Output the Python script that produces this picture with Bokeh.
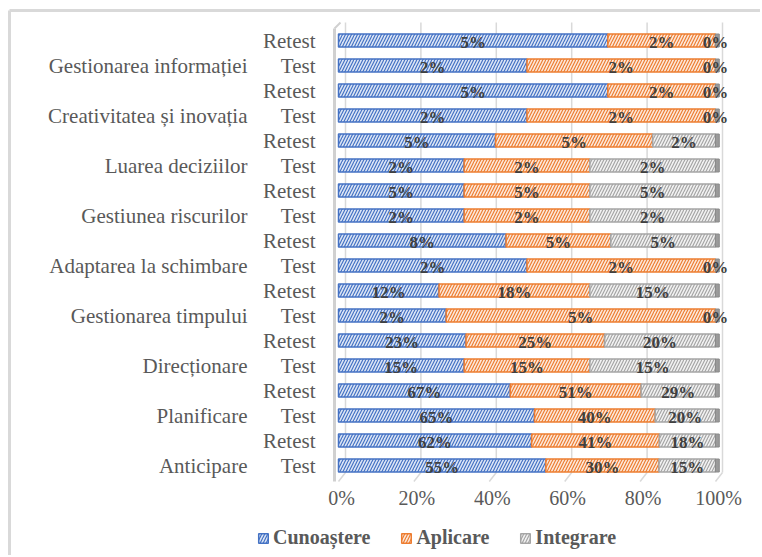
from bokeh.plotting import figure
from bokeh.models import ColumnDataSource, Range1d, Legend, LegendItem
from bokeh.core.properties import value
from bokeh.embed import file_html
from bokeh.resources import INLINE

# ---- data (rows from bottom to top) ----
skills = ["Anticipare", "Planificare", "Direcționare", "Gestionarea timpului",
          "Adaptarea la schimbare", "Gestiunea riscurilor", "Luarea deciziilor",
          "Creativitatea și inovația", "Gestionarea informației"]
phases = ["Test", "Retest"]
cunoastere = [55, 62, 65, 67, 15, 23, 2, 12, 2, 8, 2, 5, 2, 5, 2, 5, 2, 5]
aplicare = [30, 41, 40, 51, 15, 25, 5, 18, 2, 5, 2, 5, 2, 5, 2, 2, 2, 2]
integrare = [15, 18, 20, 29, 15, 20, 0, 15, 0, 5, 2, 5, 2, 2, 0, 0, 0, 0]
series_names = ["Cunoaștere", "Aplicare", "Integrare"]
x_ticks = [0, 0.2, 0.4, 0.6, 0.8, 1.0]
x_tick_labels = ["0%", "20%", "40%", "60%", "80%", "100%"]

SERIF = "Liberation Serif"
n = len(cunoastere)
rows = list(range(n))

# ---- canvas geometry (the frame covers the whole canvas) ----
W, H = 760, 555
XS = 377.0            # px per 100 %
YS = 25.0             # px per row
X0_PX, ROW0_PX = 338.0, 465.0
x_start = -X0_PX / XS
y_end = ROW0_PX / YS
def X(px):
    return x_start + px / XS
def Y(py):
    return y_end - py / YS

# normalise each row to 100 %
shares = []
for i in rows:
    tot = cunoastere[i] + aplicare[i] + integrare[i]
    shares.append((cunoastere[i] / tot, aplicare[i] / tot, integrare[i] / tot))

lefts, rights = [[], [], []], [[], [], []]
for i in rows:
    acc = 0.0
    for k in range(3):
        lefts[k].append(acc)
        acc += shares[i][k]
        rights[k].append(acc)

p = figure(output_backend="svg", toolbar_location=None, width=W, height=H,
           x_range=Range1d(x_start, x_start + W / XS), y_range=Range1d(y_end - H / YS, y_end),
           min_border_left=0, min_border_right=0, min_border_top=0, min_border_bottom=0)
p.outline_line_color = None
p.xaxis.visible = False
p.yaxis.visible = False
p.xgrid.visible = False
p.ygrid.visible = False

# chart-area border (left and top, as in the cropped original)
p.segment(x0=[X(9)], y0=[Y(10)], x1=[X(9)], y1=[Y(H)], line_color="#D9D9D9", line_width=3)
p.segment(x0=[X(9)], y0=[Y(10)], x1=[X(W)], y1=[Y(10)], line_color="#D9D9D9", line_width=3)

# 3D-ish wall / gridlines
dx = 7 / XS
p.segment(x0=[t + dx for t in x_ticks], y0=Y(472), x1=[t + dx for t in x_ticks], y1=Y(22),
          line_color="#D9D9D9", line_width=1.5)
p.segment(x0=x_ticks, y0=Y(481), x1=[t + dx for t in x_ticks], y1=Y(472),
          line_color="#D9D9D9", line_width=1.5)
p.segment(x0=[X(334)], y0=[Y(481)], x1=[X(334)], y1=[Y(28)], line_color="#D0D0D0", line_width=3)
p.segment(x0=[X(334)], y0=[Y(28)], x1=[X(340)], y1=[Y(22)], line_color="#D0D0D0", line_width=2)

styles = [
    dict(fill_color="#DCE5F5", hatch_color="#4472C4", line_color="#4472C4"),
    dict(fill_color="#FCE8DA", hatch_color="#ED7D31", line_color="#ED7D31"),
    dict(fill_color="#F2F2F2", hatch_color="#A5A5A5", line_color="#A5A5A5"),
]
renderers = []
for k in range(3):
    src = ColumnDataSource(dict(y=rows, left=lefts[k], right=rights[k]))
    r = p.hbar(y="y", left="left", right="right", height=0.52, source=src,
               fill_color=styles[k]["fill_color"], line_color=styles[k]["line_color"],
               line_width=1.5, hatch_pattern="right_diagonal_line",
               hatch_color=styles[k]["hatch_color"], hatch_scale=6, hatch_weight=1.2)
    renderers.append(r)

# end caps
p.hbar(y=rows, left=1.0, right=1.01, height=0.52, fill_color="#9A9A9A", line_color="#8A8A8A")

# data labels
vals = [cunoastere, aplicare, integrare]
lx, ly, lt = [], [], []
for k in range(3):
    for i in rows:
        lx.append((lefts[k][i] + rights[k][i]) / 2)
        ly.append(i)
        lt.append(f"{vals[k][i]}%")
p.text(x=lx, y=ly, text=lt, text_align="center", text_baseline="middle", y_offset=2,
       text_font=value(SERIF), text_font_style="bold", text_font_size="17px",
       text_color="#404040")

# category labels: Test / Retest
p.text(x=X(315), y=rows, text=[phases[i % 2] for i in rows], text_align="right",
       text_baseline="middle", text_font=value(SERIF), text_font_size="21px",
       text_color="#595959")
# skill labels aligned with the Test rows
p.text(x=X(247), y=[2 * j for j in range(len(skills))], text=skills, text_align="right",
       text_baseline="middle", text_font=value(SERIF), text_font_size="21px",
       text_color="#595959")

# x tick labels
p.text(x=x_ticks, y=Y(497), text=x_tick_labels, text_align="center", text_baseline="middle",
       x_offset=3, text_font=value(SERIF), text_font_size="20px", text_color="#595959")

legend = Legend(items=[LegendItem(label=series_names[k], renderers=[renderers[k]]) for k in range(3)],
                orientation="horizontal", location=(257, 6))
legend.label_text_font = SERIF
legend.label_text_font_style = "bold"
legend.label_text_font_size = "20px"
legend.label_text_color = "#595959"
legend.glyph_width = 12
legend.glyph_height = 12
legend.label_standoff = 4
legend.spacing = 30
legend.padding = 0
legend.margin = 0
legend.border_line_color = None
legend.background_fill_alpha = 0
p.add_layout(legend, "center")

open("out.html", "w").write(file_html(p, INLINE))
